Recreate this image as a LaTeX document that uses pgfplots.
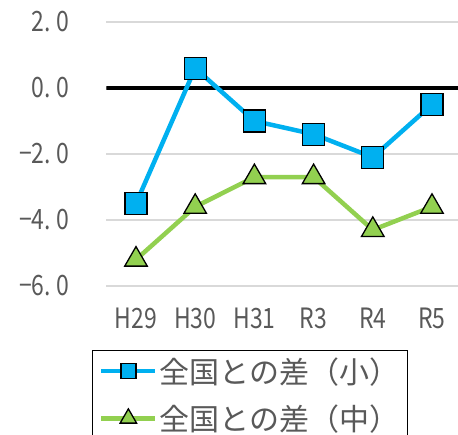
\documentclass[border=0pt]{standalone}
\usepackage{fontspec}
\setmainfont{Noto Sans CJK JP}
\newfontfamily\tickfont[FakeStretch=0.82]{Noto Sans CJK JP}
\usepackage{pgfplots}
\pgfplotsset{compat=1.18}
\definecolor{cblue}{HTML}{00B0F0}
\definecolor{cgreen}{HTML}{92D050}
\definecolor{ctext}{HTML}{595959}
\definecolor{cgrid}{HTML}{D9D9D9}
\begin{document}
\begin{tikzpicture}
\useasboundingbox (0,0) rectangle (458pt,434pt);
\clip (0,0) rectangle (458pt,434pt);
\begin{axis}[
  at={(106.4pt,148pt)}, anchor=south west,
  scale only axis, width=355.2pt, height=264pt,
  xmin=-0.5, xmax=5.5, ymin=-6, ymax=2,
  axis line style={draw=none},
  major tick length=0pt,
  ymajorgrids, grid style={cgrid, line width=1.5pt},
  xtick={0,1,2,3,4,5}, xticklabels={H29,H30,H31,R3,R4,R5},
  ytick={-6,-4,-2,0,2},
  yticklabels={−6.\hspace{5pt}0,−4.\hspace{5pt}0,−2.\hspace{5pt}0,0.\hspace{5pt}0,2.\hspace{5pt}0},
  /pgf/number format/assume math mode=true,
  ticklabel style={font=\tickfont\fontsize{28}{30}\selectfont, text=ctext},
  yticklabel style={xshift=-34pt},
  xticklabel style={yshift=-18pt},
  legend style={at={(-0.0405,-0.2424)}, anchor=north west, draw=black, line width=1.2pt,
    font=\fontsize{30}{34}\selectfont, text=ctext, row sep=16pt, inner xsep=6.5pt, inner ysep=5pt},
  legend cell align=left,
]
\addplot[black, line width=3.5pt, forget plot] coordinates {(-0.5,0) (5.5,0)};
\addplot[cblue, line width=4.5pt, mark=square*, mark size=11pt,
  mark options={fill=cblue, draw=black, line width=1.3pt},
  legend image code/.code={\draw[mark repeat=2,mark phase=2, mark size=7.5pt] plot coordinates {(0pt,0pt)(27pt,0pt)(54pt,0pt)};}]
  coordinates {(0,-3.5) (1,0.6) (2,-1.0) (3,-1.4) (4,-2.1) (5,-0.5)};
\addlegendentry{全国との差（小）}
\addplot[cgreen, line width=4.5pt, mark=triangle*, mark size=13pt,
  mark options={fill=cgreen, draw=black, line width=1.3pt},
  legend image code/.code={\draw[mark repeat=2,mark phase=2, mark size=9.5pt] plot coordinates {(0pt,0pt)(27pt,0pt)(54pt,0pt)};}]
  coordinates {(0,-5.2) (1,-3.6) (2,-2.7) (3,-2.7) (4,-4.3) (5,-3.6)};
\addlegendentry{全国との差（中）}
\end{axis}
\end{tikzpicture}
\end{document}
